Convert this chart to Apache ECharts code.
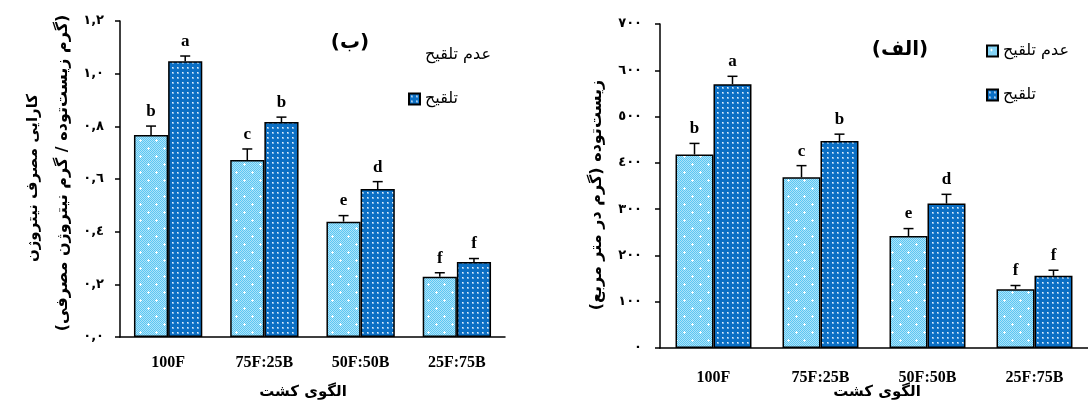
<!DOCTYPE html>
<html>
<head>
<meta charset="utf-8">
<script src="https://cdn.jsdelivr.net/npm/echarts@6/dist/echarts.min.js"></script>
<style>
html,body{margin:0;padding:0;background:#fff;}
#c{width:1088px;height:403px;}
</style>
</head>
<body>
<div id="c"></div>
<script>
// ---- data ----
const categories = ['100F', '75F:25B', '50F:50B', '25F:75B'];
const seriesNames = ['عدم تلقیح', 'تلقیح'];

// Left chart (ب): nitrogen use efficiency
const nueNoInoc = [0.767, 0.672, 0.438, 0.229];
const nueNoInocErr = [0.034, 0.042, 0.023, 0.015];
const nueInoc = [1.047, 0.816, 0.562, 0.285];
const nueInocErr = [0.020, 0.019, 0.028, 0.013];
const nueLettersNoInoc = ['b', 'c', 'e', 'f'];
const nueLettersInoc = ['a', 'b', 'd', 'f'];
const nueTickLabels = ['٠,٠', '٠,٢', '٠,٤', '٠,٦', '٠,٨', '١,٠', '١,٢'];

// Right chart (الف): biomass
const bioNoInoc = [418, 369, 242, 127];
const bioNoInocErr = [24, 25, 16, 8];
const bioInoc = [570, 447, 312, 156];
const bioInocErr = [17, 15, 20, 12];
const bioLettersNoInoc = ['b', 'c', 'e', 'f'];
const bioLettersInoc = ['a', 'b', 'd', 'f'];
const bioTickLabels = ['٠', '١٠٠', '٢٠٠', '٣٠٠', '٤٠٠', '٥٠٠', '٦٠٠', '٧٠٠'];

// ---- patterns ----
function makeLightPattern() {
  const c = document.createElement('canvas');
  c.width = 16; c.height = 16;
  const g = c.getContext('2d');
  for (let y = 0; y < 16; y++) for (let x = 0; x < 16; x++) {
    g.fillStyle = ((x + y) % 2 === 0) ? '#5cc6f2' : '#ace3fa';
    g.fillRect(x, y, 1, 1);
  }
  g.fillStyle = '#ffffff';
  [[4, 4], [12, 12]].forEach(function (p) {
    g.fillRect(p[0] - 1, p[1], 3, 1);
    g.fillRect(p[0], p[1] - 1, 1, 3);
  });
  return c;
}
function makeDarkPattern() {
  const c = document.createElement('canvas');
  c.width = 5; c.height = 5;
  const g = c.getContext('2d');
  g.fillStyle = '#0b6fc4';
  g.fillRect(0, 0, 5, 5);
  g.fillStyle = '#7fb6e6';
  g.fillRect(2, 2, 2, 2);
  g.fillStyle = '#e6f0fa';
  g.fillRect(2, 2, 1, 1);
  return c;
}
const lightFill = { image: makeLightPattern(), repeat: 'repeat' };
const darkFill = { image: makeDarkPattern(), repeat: 'repeat' };

const ARFONT = 'DejaVu Sans';
const SERIF = 'Liberation Serif';

function errData(vals, errs, side) {
  return vals.map(function (v, i) { return [i, v, errs[i], side]; });
}
function makeErrSeries(gridIdx, data, letters) {
  return {
    type: 'custom',
    xAxisIndex: gridIdx, yAxisIndex: gridIdx,
    z: 10,
    silent: true,
    data: data,
    renderItem: function (params, api) {
      const cat = api.value(0), val = api.value(1), err = api.value(2), side = api.value(3);
      const band = api.size([1, 0])[0];
      const cx = api.coord([cat, 0])[0] + (side ? 1 : -1) * band * 0.1775;
      const yb = api.coord([cat, val])[1];
      const yt = api.coord([cat, val + err])[1];
      const letter = letters[params.dataIndex];
      return {
        type: 'group',
        children: [
          { type: 'line', shape: { x1: cx, y1: yb, x2: cx, y2: yt }, style: { stroke: '#000', lineWidth: 1.5 } },
          { type: 'line', shape: { x1: cx - 5, y1: yt, x2: cx + 5, y2: yt }, style: { stroke: '#000', lineWidth: 1.5 } },
          { type: 'text', style: { text: letter, x: cx, y: yt - 6, align: 'center', verticalAlign: 'bottom',
              font: 'bold 17px "' + SERIF + '"', fill: '#000' } }
        ]
      };
    }
  };
}

function xAxisCfg(gridIdx, margin) {
  return {
    type: 'category', gridIndex: gridIdx, data: categories,
    axisLine: { lineStyle: { color: '#000', width: 1.5 } },
    axisTick: { length: 7, lineStyle: { color: '#000', width: 1.5 } },
    axisLabel: { margin: margin, color: '#000', fontFamily: SERIF, fontWeight: 'bold', fontSize: 16 }
  };
}
function yAxisCfg(gridIdx, max, interval, labels, margin) {
  return {
    type: 'value', gridIndex: gridIdx, min: 0, max: max, interval: interval,
    splitLine: { show: false },
    axisLine: { show: true, lineStyle: { color: '#000', width: 1.5 } },
    axisTick: { show: true, length: 5, lineStyle: { color: '#000', width: 1.5 } },
    axisLabel: {
      margin: margin, color: '#000', fontFamily: ARFONT, fontWeight: 'bold', fontSize: 13,
      formatter: function (v) { return labels[Math.round(v / interval)]; }
    }
  };
}
function barSeries(gridIdx, name, data, fill) {
  return {
    type: 'bar', name: name, xAxisIndex: gridIdx, yAxisIndex: gridIdx,
    data: data, barGap: '0%', barCategoryGap: '29%',
    itemStyle: { color: fill, borderColor: '#000', borderWidth: 1.5 },
    emphasis: { disabled: true }
  };
}

const chart = echarts.init(document.getElementById('c'), null, { renderer: 'canvas' });
const option = {
  animation: false,
  backgroundColor: '#fff',
  grid: [
    { left: 120, top: 21, width: 385, height: 316 },
    { left: 660, top: 24, width: 432, height: 324 }
  ],
  xAxis: [xAxisCfg(0, 18), xAxisCfg(1, 22)],
  yAxis: [yAxisCfg(0, 1.2, 0.2, nueTickLabels, 16), yAxisCfg(1, 700, 100, bioTickLabels, 18)],
  legend: [
    {
      left: 403, top: 42, orient: 'vertical', itemGap: 28, itemWidth: 11, itemHeight: 11,
      icon: 'rect', selectedMode: false,
      textStyle: { fontFamily: ARFONT, fontSize: 16, color: '#000' },
      data: [{ name: seriesNames[0], itemStyle: { opacity: 0, borderWidth: 0 } }, { name: seriesNames[1] }]
    },
    {
      left: 981, top: 38, orient: 'vertical', itemGap: 28, itemWidth: 11, itemHeight: 11,
      icon: 'rect', selectedMode: false,
      textStyle: { fontFamily: ARFONT, fontSize: 16, color: '#000' },
      data: [seriesNames[0], seriesNames[1]]
    }
  ],
  series: [
    barSeries(0, seriesNames[0], nueNoInoc, lightFill),
    barSeries(0, seriesNames[1], nueInoc, darkFill),
    barSeries(1, seriesNames[0], bioNoInoc, lightFill),
    barSeries(1, seriesNames[1], bioInoc, darkFill),
    makeErrSeries(0, errData(nueNoInoc, nueNoInocErr, 0), nueLettersNoInoc),
    makeErrSeries(0, errData(nueInoc, nueInocErr, 1), nueLettersInoc),
    makeErrSeries(1, errData(bioNoInoc, bioNoInocErr, 0), bioLettersNoInoc),
    makeErrSeries(1, errData(bioInoc, bioInocErr, 1), bioLettersInoc)
  ],
  graphic: [
    { type: 'text', x: 350, y: 43, style: { text: '(ب)', font: 'bold 20px "' + ARFONT + '"', fill: '#000', align: 'center', verticalAlign: 'middle' } },
    { type: 'text', x: 900, y: 50, style: { text: '(الف)', font: 'bold 20px "' + ARFONT + '"', fill: '#000', align: 'center', verticalAlign: 'middle' } },
    { type: 'text', x: 33, y: 178, rotation: Math.PI / 2, style: { text: 'کارایی مصرف نیتروژن', font: 'bold 15px "' + ARFONT + '"', fill: '#000', align: 'center', verticalAlign: 'middle' } },
    { type: 'text', x: 63, y: 173, rotation: Math.PI / 2, style: { text: '(گرم زیست‌توده / گرم نیتروژن مصرفی)', font: 'bold 16px "' + ARFONT + '"', fill: '#000', align: 'center', verticalAlign: 'middle' } },
    { type: 'text', x: 597, y: 195, rotation: Math.PI / 2, style: { text: 'زیست‌توده (گرم در متر مربع)', font: 'bold 16px "' + ARFONT + '"', fill: '#000', align: 'center', verticalAlign: 'middle' } },
    { type: 'text', x: 303, y: 392, style: { text: 'الگوی کشت', font: 'bold 15px "' + ARFONT + '"', fill: '#000', align: 'center', verticalAlign: 'middle' } },
    { type: 'text', x: 877, y: 392, style: { text: 'الگوی کشت', font: 'bold 15px "' + ARFONT + '"', fill: '#000', align: 'center', verticalAlign: 'middle' } }
  ]
};
chart.setOption(option);
</script>
</body>
</html>
